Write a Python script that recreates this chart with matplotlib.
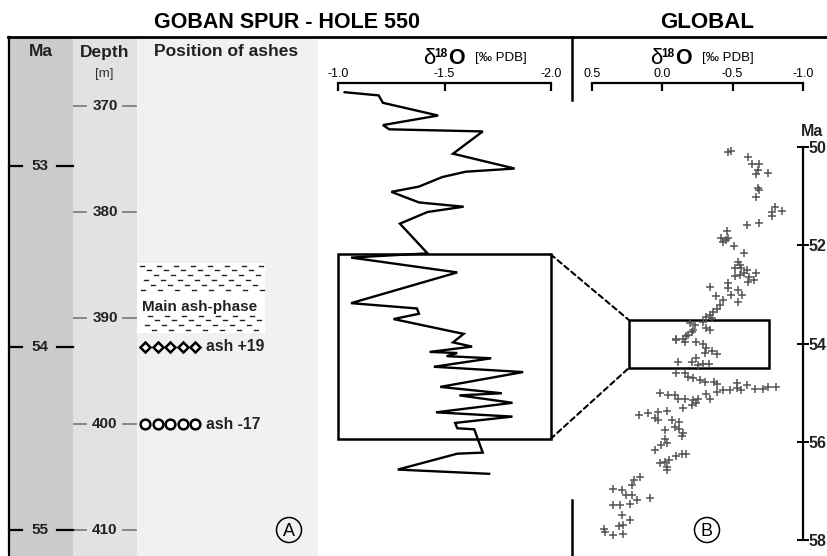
import matplotlib
matplotlib.use("Agg")
import matplotlib.pyplot as plt
from matplotlib.patches import Rectangle, Circle, ConnectionPatch

plt.rcParams['font.family'] = ['Liberation Sans', 'DejaVu Sans']

# ---------------- data ----------------
hole_d18o = [-1.03, -1.19, -1.21, -1.47, -1.21, -1.24, -1.68, -1.54, -1.83, -1.60,
             -1.49, -1.38, -1.25, -1.38, -1.59, -1.42, -1.29, -1.42, -1.06, -1.56,
             -1.06, -1.37, -1.38, -1.26, -1.59, -1.54, -1.63, -1.43, -1.56, -1.51,
             -1.72, -1.45, -1.87, -1.48, -1.77, -1.57, -1.82, -1.46, -1.82, -1.55,
             -1.56, -1.64, -1.68, -1.56, -1.28, -1.71]
hole_depth = [368.7, 369.0, 369.7, 370.9, 371.8, 372.2, 372.4, 374.5, 375.9, 376.2,
              376.7, 377.6, 378.1, 379.1, 379.5, 380.0, 381.1, 383.9, 384.3, 385.7,
              388.6, 389.1, 389.6, 390.1, 391.5, 392.3, 392.7, 393.2, 393.3, 393.6,
              393.8, 394.6, 395.1, 396.5, 397.1, 397.3, 398.0, 398.9, 399.3, 399.9,
              400.4, 400.5, 402.7, 402.8, 404.3, 404.7]

global_d18o = [-0.47, -0.49, -0.61, -0.64, -0.69, -0.68, -0.67, -0.75, -0.68, -0.69,
               -0.67, -0.80, -0.85, -0.78, -0.78, -0.60, -0.69, -0.46, -0.42, -0.45,
               -0.47, -0.43, -0.51, -0.58, -0.54, -0.55, -0.52, -0.56, -0.60, -0.58,
               -0.55, -0.52, -0.67, -0.62, -0.65, -0.61, -0.34, -0.47, -0.47, -0.54,
               -0.57, -0.49, -0.38, -0.43, -0.54, -0.41, -0.39, -0.36, -0.34, -0.31,
               -0.35, -0.29, -0.23, -0.20, -0.31, -0.34, -0.22, -0.18, -0.15, -0.10,
               -0.21, -0.17, -0.10, -0.16, -0.24, -0.29, -0.31, -0.35, -0.39, -0.30,
               -0.24, -0.21, -0.11, -0.29, -0.33, -0.25, -0.10, -0.16, -0.18, -0.22,
               -0.27, -0.30, -0.37, -0.39, -0.43, -0.48, -0.53, -0.53, -0.56, -0.60,
               -0.66, -0.72, -0.75, -0.81, -0.39, -0.31, 0.02, -0.04, -0.09, -0.11,
               -0.16, -0.22, -0.25, -0.34, -0.24, -0.21, -0.15, 0.17, 0.10, 0.03,
               -0.03, 0.05, 0.03, -0.07, -0.12, -0.09, -0.12, -0.02, -0.15, -0.14,
               -0.02, -0.03, 0.01, 0.05, -0.10, -0.14, -0.17, -0.05, -0.02, 0.02,
               -0.03, -0.03, 0.16, 0.20, 0.22, 0.35, 0.29, 0.26, 0.22, 0.09,
               0.18, 0.23, 0.35, 0.30, 0.29, 0.23, 0.28, 0.31, 0.42, 0.41,
               0.35, 0.28]
global_age = [50.10, 50.08, 50.20, 50.35, 50.35, 50.47, 50.54, 50.52, 50.84, 50.88,
              51.02, 51.22, 51.30, 51.32, 51.41, 51.59, 51.54, 51.70, 51.86, 51.89,
              51.86, 51.93, 52.02, 52.16, 52.34, 52.40, 52.47, 52.47, 52.51, 52.57,
              52.61, 52.63, 52.56, 52.64, 52.71, 52.74, 52.85, 52.76, 52.88, 52.91,
              53.01, 53.01, 53.03, 53.12, 53.15, 53.22, 53.29, 53.35, 53.42, 53.46,
              53.49, 53.56, 53.63, 53.59, 53.69, 53.73, 53.73, 53.83, 53.90, 53.90,
              53.76, 53.85, 53.93, 53.97, 53.97, 54.01, 54.10, 54.15, 54.22, 54.20,
              54.30, 54.37, 54.37, 54.41, 54.41, 54.44, 54.61, 54.61, 54.68, 54.71,
              54.75, 54.78, 54.78, 54.83, 54.95, 54.95, 54.81, 54.91, 54.95, 54.85,
              54.93, 54.93, 54.89, 54.89, 54.98, 55.02, 55.00, 55.05, 55.05, 55.12,
              55.12, 55.15, 55.12, 55.12, 55.22, 55.25, 55.32, 55.46, 55.42, 55.39,
              55.37, 55.51, 55.56, 55.56, 55.59, 55.70, 55.75, 55.76, 55.83, 55.89,
              55.95, 56.03, 56.07, 56.16, 56.29, 56.25, 56.25, 56.37, 56.41, 56.44,
              56.51, 56.58, 56.71, 56.78, 56.88, 56.97, 56.99, 57.09, 57.09, 57.15,
              57.19, 57.26, 57.29, 57.29, 57.49, 57.60, 57.70, 57.72, 57.77, 57.84,
              57.90, 57.87]

depth_ticks = [370, 380, 390, 400, 410]
ma_ticks = [53, 54, 55]
ma_tick_depth = [375.7, 392.7, 410.0]
global_age_ticks = [50, 52, 54, 56, 58]
hole_x_ticks = [-1.0, -1.5, -2.0]
global_x_ticks = [0.5, 0.0, -0.5, -1.0]

ash_labels = ["ash +19", "ash -17"]
ash_depths = [392.7, 400.0]
ash_markers = ["D", "o"]
main_ash_phase = (384.8, 391.4)

hole_zoom = (-1.0, -2.0, 384.0, 401.4)     # d18O range, depth range
global_zoom = (0.24, -0.76, 53.52, 54.5)   # d18O range, age range

# ---------------- figure ----------------
W, H = 827, 556
fig = plt.figure(figsize=(W / 100, H / 100), dpi=100)


def frac(x0, y0, x1, y1):
    return [x0 / W, 1 - y1 / H, (x1 - x0) / W, (y1 - y0) / H]


bg = fig.add_axes([0, 0, 1, 1], zorder=0)
bg.set_xlim(0, W)
bg.set_ylim(H, 0)
bg.axis('off')

# column backgrounds
bg.add_patch(Rectangle((8, 37), 65, H - 37, color='#cbcbcb', lw=0))
bg.add_patch(Rectangle((73, 37), 64, H - 37, color='#e2e2e2', lw=0))
bg.add_patch(Rectangle((137, 37), 181, H - 37, color='#f1f1f1', lw=0))
# frame lines
bg.plot([8, W], [37, 37], color='black', lw=2)
bg.plot([9, 9], [37, H], color='black', lw=1.6)
bg.plot([572, 572], [37, 100], color='black', lw=1.8)
bg.plot([572, 572], [500, H], color='black', lw=1.8)

# titles
bg.text(287, 23, "GOBAN SPUR - HOLE 550", ha='center', va='center',
        fontsize=15.5, fontweight='bold')
bg.text(707, 23, "GLOBAL", ha='center', va='center', fontsize=16, fontweight='bold')

# column headers
bg.text(41, 52, "Ma", ha='center', va='center', fontsize=12.5, fontweight='bold',
        color='#222222')
bg.text(105, 52, "Depth", ha='center', va='center', fontsize=12.5, fontweight='bold',
        color='#222222')
bg.text(104, 74, "[m]", ha='center', va='center', fontsize=9.5, color='#333333')
bg.text(226, 52, "Position of ashes", ha='center', va='center', fontsize=12.5,
        fontweight='bold', color='#222222')


def d18o_label(x, y):
    bg.text(x, y, "δ", ha='left', va='center', fontsize=16)
    bg.text(x + 11, y - 5, "18", ha='left', va='center', fontsize=8.5, fontweight='bold')
    bg.text(x + 25, y, "O", ha='left', va='center', fontsize=15.5, fontweight='bold')
    bg.text(x + 52, y - 1, "[‰ PDB]", ha='left', va='center', fontsize=9.5)


d18o_label(423, 59)
d18o_label(650, 59)

bg.text(812, 131, "Ma", ha='center', va='center', fontsize=11.5, fontweight='bold',
        color='#222222')

# circled letters
for cx, letter in [(289, "A"), (707, "B")]:
    bg.add_patch(Circle((cx, 530), 12.5, fill=False, lw=1.1, ec='black'))
    bg.text(cx, 531, letter, ha='center', va='center', fontsize=13)

# ---------------- hole 550 axes ----------------
y_top_px, y_bot_px = 83, H
px_per_m = 10.6
d_top = 370 - (106 - y_top_px) / px_per_m
d_bot = 370 + (y_bot_px - 106) / px_per_m

axh = fig.add_axes(frac(338.3, y_top_px, 550.7, y_bot_px), zorder=2)
axh.patch.set_alpha(0)
axh.set_xlim(-1.0, -2.0)
axh.set_ylim(d_bot, d_top)
for s in ['left', 'right', 'bottom']:
    axh.spines[s].set_visible(False)
axh.spines['top'].set_linewidth(1.6)
axh.xaxis.tick_top()
axh.set_xticks(hole_x_ticks)
axh.set_xticklabels([f"{v:.1f}" for v in hole_x_ticks])
axh.tick_params(axis='x', direction='in', length=6, width=1.6, pad=2, labelsize=9)
axh.set_yticks([])
axh.plot(hole_d18o, hole_depth, color='black', lw=1.7, solid_joinstyle='miter',
         clip_on=False)
axh.add_patch(Rectangle((hole_zoom[0], hole_zoom[2]), hole_zoom[1] - hole_zoom[0],
                        hole_zoom[3] - hole_zoom[2], fill=False, lw=1.8, ec='black',
                        clip_on=False))

# ---------------- left column axes (depth / Ma / ashes) ----------------
axl = fig.add_axes(frac(0, y_top_px, 318, y_bot_px), zorder=1)
axl.patch.set_alpha(0)
axl.set_xlim(0, 318)
axl.set_ylim(d_bot, d_top)
axl.axis('off')

for d in depth_ticks:
    axl.text(105, d, str(d), ha='center', va='center', fontsize=11, fontweight='bold',
             color='#222222')
    axl.plot([74, 86], [d, d], color='#777777', lw=1.2)
    axl.plot([123, 136], [d, d], color='#777777', lw=1.2)

for m, d in zip(ma_ticks, ma_tick_depth):
    axl.text(40, d, str(m), ha='center', va='center', fontsize=11, fontweight='bold',
             color='#222222')
    axl.plot([9, 22], [d, d], color='black', lw=1.6)
    axl.plot([57, 73], [d, d], color='black', lw=1.6)

# main ash phase
axl.add_patch(Rectangle((137, main_ash_phase[0]), 128,
                        main_ash_phase[1] - main_ash_phase[0], color='white', lw=0))
row_px = [266, 270, 275, 280, 285, 290, 316, 320, 325, 330]
for i, ypx in enumerate(row_px):
    dd = 370 + (ypx - 106) / px_per_m
    x = 140 + (i * 7) % 17
    while x < 262:
        axl.plot([x, x + 4], [dd, dd], color='#222222', lw=1.0)
        x += 17
axl.text(200, (main_ash_phase[0] + main_ash_phase[1]) / 2 + 0.9, "Main ash-phase",
         ha='center', va='center', fontsize=11, fontweight='bold', color='#222222')

for lab, d, mk in zip(ash_labels, ash_depths, ash_markers):
    axl.plot([145, 157.5, 170, 182.5, 195], [d] * 5, linestyle='none', marker=mk,
             ms=5.2 if mk == 'D' else 7, mfc='white', mec='black', mew=1.8)
    axl.text(206, d, lab, ha='left', va='center', fontsize=11.3, fontweight='bold',
             color='#222222')

# ---------------- global axes ----------------
px_per_ma = (540 - 147) / 8
a_top = 50 - (147 - y_top_px) / px_per_ma
a_bot = 58 + (y_bot_px - 540) / px_per_ma

axg = fig.add_axes(frac(592.3, y_top_px, 802.7, y_bot_px), zorder=2)
axg.patch.set_alpha(0)
axg.set_xlim(0.5, -1.0)
axg.set_ylim(a_bot, a_top)
axg.spines['left'].set_visible(False)
axg.spines['bottom'].set_visible(False)
axg.spines['top'].set_linewidth(1.6)
axg.spines['right'].set_linewidth(1.6)
axg.spines['right'].set_bounds(50, 58)
axg.xaxis.tick_top()
axg.set_xticks(global_x_ticks)
axg.set_xticklabels([f"{v:.1f}" for v in global_x_ticks])
axg.tick_params(axis='x', direction='in', length=6, width=1.6, pad=2, labelsize=9)
axg.yaxis.tick_right()
axg.set_yticks(global_age_ticks)
axg.tick_params(axis='y', direction='inout', length=8, width=1.4, pad=0, labelsize=11.5)
for t in axg.get_yticklabels():
    t.set_fontweight('bold')
    t.set_color('#222222')
axg.plot(global_d18o, global_age, linestyle='none', marker='+', ms=5.5, mew=1.1,
         color='#555555')
axg.add_patch(Rectangle((global_zoom[0], global_zoom[2]), global_zoom[1] - global_zoom[0],
                        global_zoom[3] - global_zoom[2], fill=False, lw=1.8, ec='black'))

# connecting dashed lines
for hy, gy in [(hole_zoom[2], global_zoom[2]), (hole_zoom[3], global_zoom[3])]:
    con = ConnectionPatch(xyA=(hole_zoom[1], hy), coordsA=axh.transData,
                          xyB=(global_zoom[0], gy), coordsB=axg.transData,
                          linestyle=(0, (2.5, 1.8)), lw=1.5, color='black')
    fig.add_artist(con)

fig.savefig("out.png", dpi=100)
